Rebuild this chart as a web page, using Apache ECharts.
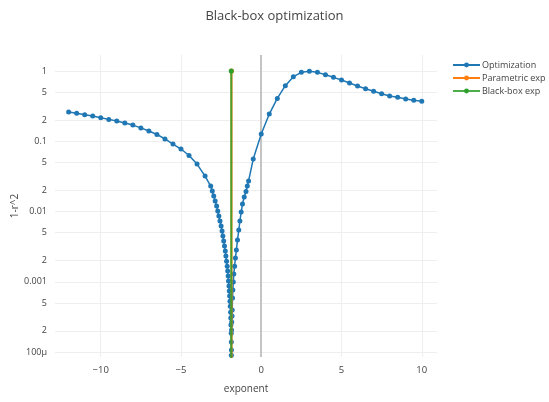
<!DOCTYPE html>
<html>
<head>
<meta charset="utf-8">
<script src="https://cdn.jsdelivr.net/npm/echarts@6/dist/echarts.min.js"></script>
<style>
html, body { margin: 0; padding: 0; background: #fff; }
#chart { width: 549px; height: 402px; }
</style>
</head>
<body>
<div id="chart"></div>
<script>
// Exponents evaluated by the optimizer, sorted ascending
const exponents = [
  -12, -11.5, -11, -10.5, -10, -9.5, -9, -8.5, -8, -7.5, -7, -6.5, -6, -5.5, -5, -4.5, -4, -3.5,
  -3.15, -3.05, -2.96, -2.87, -2.78, -2.71, -2.64, -2.57, -2.50, -2.44, -2.39, -2.34, -2.29,
  -2.24, -2.20, -2.16, -2.12, -2.09, -2.06, -2.04, -2.01, -1.99, -1.97, -1.95, -1.93,
  -1.91, -1.90, -1.89, -1.87, -1.865, -1.862, -1.858, -1.85, -1.84, -1.82, -1.81,
  -1.79, -1.77, -1.74, -1.71, -1.66, -1.61, -1.55, -1.48, -1.40, -1.33, -1.25, -1.17,
  -1.06, -0.95, -0.87, -0.79, -0.5,
  0, 0.5, 1, 1.5, 2, 2.5, 3, 3.5, 4, 4.5, 5, 5.5, 6, 6.5, 7, 7.5, 8, 8.5, 9, 9.5, 10
];
// 1 - r^2 for each exponent
const oneMinusR2 = [
  0.261, 0.250, 0.239, 0.229, 0.216, 0.205, 0.194, 0.182, 0.170, 0.155, 0.140, 0.125, 0.108, 0.0914, 0.0776, 0.0627, 0.0474, 0.0320,
  0.02307, 0.01959, 0.01663, 0.01409, 0.01197, 0.01016, 0.00863, 0.00733, 0.00622, 0.00527, 0.00448, 0.00380, 0.00323,
  0.00274, 0.00233, 0.00197, 0.00167, 0.00142, 0.00121, 0.00103, 0.00087, 0.00074, 0.00063, 0.00053, 0.00045,
  0.00037, 0.000305, 0.000242, 0.000186, 0.000139, 0.00009, 0.000107, 0.000206, 0.000267, 0.000326, 0.000398,
  0.000587, 0.000764, 0.00099, 0.00129, 0.00167, 0.00218, 0.00283, 0.00393, 0.00546, 0.00733, 0.00984, 0.0128,
  0.0161, 0.0193, 0.0231, 0.0272, 0.0558,
  0.127, 0.244, 0.408, 0.618, 0.830, 0.957, 0.995, 0.957, 0.885, 0.813, 0.745, 0.675, 0.611, 0.560, 0.514, 0.475, 0.441, 0.423, 0.399, 0.383, 0.371
];
// Best exponents from the two estimation methods, drawn as vertical markers
const parametricExp = -1.85;
const blackBoxExp = -1.87;
const expLineTop = 1;
const expLineBottom = 1e-6;

// Axis ticks
const xTicks = [-10, -5, 0, 5, 10];
const yTicks = [1, 0.5, 0.2, 0.1, 0.05, 0.02, 0.01, 0.005, 0.002, 0.001, 0.0005, 0.0002, 0.0001];
const yTickLabels = ['1', '5', '2', '0.1', '5', '2', '0.01', '5', '2', '0.001', '5', '2', '100μ'];

const chart = echarts.init(document.getElementById('chart'), null, { renderer: 'canvas' });
const FONT = '"Open Sans", Verdana, Arial, sans-serif';
const TXT = '#444';

const optData = exponents.map((x, i) => [x, oneMinusR2[i]]);

chart.setOption({
  animation: false,
  backgroundColor: '#fff',
  textStyle: { fontFamily: FONT },
  title: {
    text: 'Black-box optimization',
    left: 'center',
    top: 5,
    textStyle: { fontFamily: FONT, fontSize: 13, fontWeight: 'normal', color: TXT }
  },
  legend: {
    orient: 'vertical',
    left: 452,
    top: 60,
    padding: 0,
    itemWidth: 27,
    itemHeight: 6,
    itemGap: 3,
    textStyle: { fontFamily: FONT, fontSize: 9, lineHeight: 10, color: TXT, padding: [0, 0, 0, -3] },
    data: ['Optimization', 'Parametric exp', 'Black-box exp']
  },
  grid: { left: 55, right: 112, top: 55, bottom: 45, containLabel: false, outerBoundsMode: 'none' },
  xAxis: {
    type: 'value',
    min: -12.85,
    max: 10.95,
    name: 'exponent',
    nameLocation: 'middle',
    nameGap: 27,
    nameMoveOverlap: false,
    nameTextStyle: { fontFamily: FONT, fontSize: 10, color: TXT },
    axisLine: { show: false },
    axisTick: { show: false, customValues: xTicks },
    axisLabel: {
      customValues: xTicks,
      fontFamily: FONT, fontSize: 9.5, color: TXT, margin: 8,
      formatter: v => (v < 0 ? '\u2212' + Math.abs(v) : String(v))
    },
    splitLine: { show: true, lineStyle: { color: '#eeeeee', width: 1 } }
  },
  yAxis: {
    type: 'log',
    logBase: 10,
    min: Math.pow(10, -4.07),
    max: Math.pow(10, 0.228),
    name: '1-r^2',
    nameLocation: 'middle',
    nameGap: 35,
    nameRotate: 90,
    nameMoveOverlap: false,
    nameTextStyle: { fontFamily: FONT, fontSize: 10, color: TXT },
    axisLine: { show: false },
    axisTick: { show: false, customValues: yTicks },
    axisLabel: {
      customValues: yTicks,
      fontFamily: FONT, fontSize: 9, color: TXT, margin: 8,
      formatter: v => {
        const i = yTicks.findIndex(t => Math.abs(t - v) / t < 1e-6);
        return i >= 0 ? yTickLabels[i] : '';
      }
    },
    splitLine: { show: true, lineStyle: { color: '#eeeeee', width: 1 } }
  },
  series: [
    {
      name: 'Optimization',
      type: 'line',
      data: optData,
      color: '#1f77b4',
      symbol: 'circle',
      symbolSize: 5,
      showAllSymbol: true,
      smooth: false,
      lineStyle: { width: 1.5, color: '#1f77b4' },
      itemStyle: { color: '#1f77b4' },
      z: 3,
      markLine: {
        silent: true,
        symbol: 'none',
        label: { show: false },
        lineStyle: { type: 'solid', color: '#c4c4c4', width: 2 },
        data: [{ xAxis: 0 }],
        z: 1
      }
    },
    {
      name: 'Parametric exp',
      type: 'line',
      data: [[parametricExp, expLineTop], [parametricExp, expLineBottom]],
      color: '#ff7f0e',
      symbol: 'circle',
      symbolSize: 5,
      lineStyle: { width: 2, color: '#ff7f0e' },
      itemStyle: { color: '#ff7f0e' },
      z: 4
    },
    {
      name: 'Black-box exp',
      type: 'line',
      data: [[blackBoxExp, expLineTop], [blackBoxExp, expLineBottom]],
      color: '#2ca02c',
      symbol: 'circle',
      symbolSize: 5,
      lineStyle: { width: 2, color: '#2ca02c', opacity: 0.85 },
      itemStyle: { color: '#2ca02c' },
      z: 5
    }
  ]
});
</script>
</body>
</html>
